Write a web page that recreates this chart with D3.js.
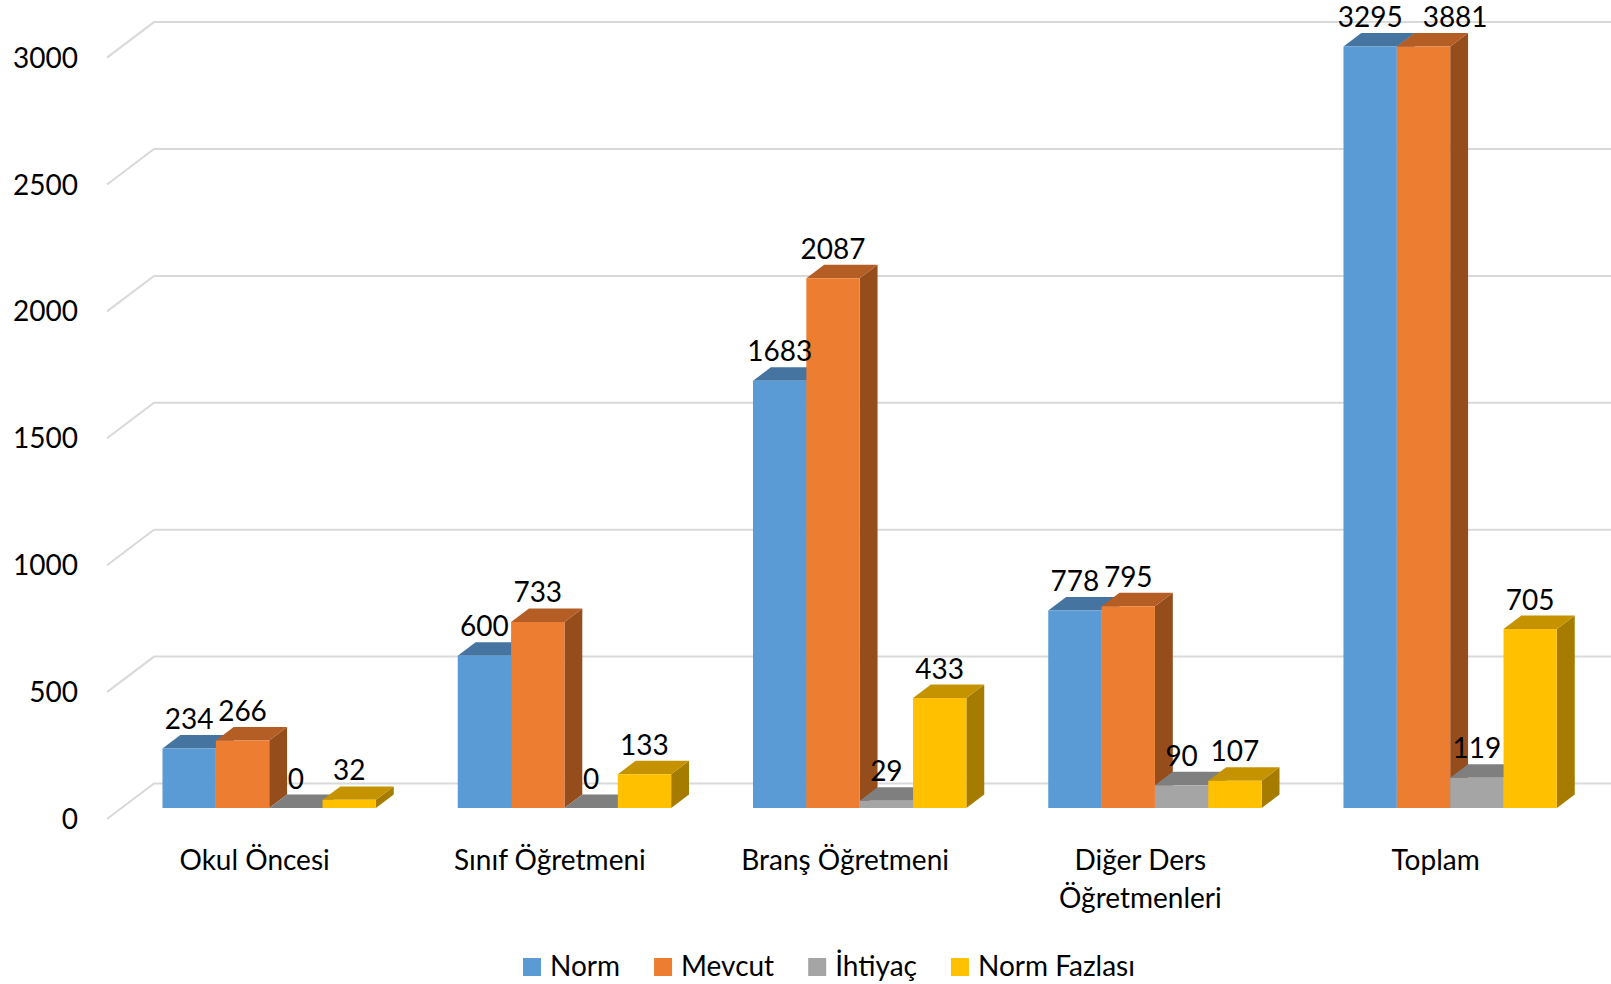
<!DOCTYPE html>
<html>
<head>
<meta charset="utf-8">
<script src="https://cdn.jsdelivr.net/npm/d3@7"></script>
<style>
  html, body { margin: 0; padding: 0; background: #fff; }
  svg { display: block; }
  text { font-family: Lato, "Open Sans", sans-serif; fill: #000; }
</style>
</head>
<body>
<svg id="chart" width="1611" height="984"></svg>
<script>
// ---- data ----
const categories = ["Okul Öncesi", "Sınıf Öğretmeni", "Branş Öğretmeni", "Diğer Ders Öğretmenleri", "Toplam"];
const seriesNames = ["Norm", "Mevcut", "İhtiyaç", "Norm Fazlası"];
const norm        = [234, 600, 1683, 778, 3295];
const mevcut      = [266, 733, 2087, 795, 3881];
const ihtiyac     = [0, 0, 29, 90, 119];
const normFazlasi = [32, 133, 433, 107, 705];
const yTicks      = [0, 500, 1000, 1500, 2000, 2500, 3000];
const seriesValues = [norm, mevcut, ihtiyac, normFazlasi];

// ---- styles ----
const faceColors = [
  { front: "#5B9BD5", top: "#44749F", side: "#3E6C96" },
  { front: "#ED7D31", top: "#B45D24", side: "#964D1C" },
  { front: "#A5A5A5", top: "#7F7F7F", side: "#7A7A7A" },
  { front: "#FFC000", top: "#C59300", side: "#A67C00" }
];
const FONT = 28;

// ---- layout ----
const svg = d3.select("#chart");
const frontLeft = 107, frontRight = 1583.25;
const DX = 47, DY = 35.5;       // full depth offset of the 3D box
const zFront = 0.31, zBack = 0.69;

const y = d3.scaleLinear().domain([0, 3000]).range([819, 57.6]);
const x = d3.scaleBand().domain(categories).range([frontLeft, frontRight])
  .paddingInner(0.2772).paddingOuter(0.1386);
const xs = d3.scaleBand().domain(seriesNames).range([0, x.bandwidth()]);

const P = (px, v, z) => [px + z * DX, y(v) - z * DY];
const poly = pts => "M" + pts.map(p => p[0].toFixed(2) + "," + p[1].toFixed(2)).join("L") + "Z";

// ---- gridlines (left wall diagonals + back wall) ----
const grid = svg.append("g").attr("stroke", "#D9D9D9").attr("stroke-width", 2).attr("fill", "none");
yTicks.forEach(t => {
  const a = P(frontLeft, t, 0), b = P(frontLeft, t, 1), c = P(frontRight, t, 1);
  grid.append("path").attr("d", `M${a[0]},${a[1]}L${b[0]},${b[1]}L${c[0] + 60},${c[1]}`);
});

// ---- y axis labels ----
svg.append("g").selectAll("text").data(yTicks).join("text")
  .attr("x", 78).attr("y", d => y(d) + 10)
  .attr("text-anchor", "end").attr("font-size", FONT)
  .text(d => d);

// ---- bars ----
const yMax = y.domain()[1];
const barsG = svg.append("g");
const labelsG = svg.append("g");
categories.forEach((cat, ci) => {
  let prev = null;
  seriesNames.forEach((s, si) => {
    const v = seriesValues[si][ci];
    const h = Math.min(v, yMax);
    const xl = x(cat) + xs(s), xr = xl + xs.bandwidth();
    const col = faceColors[si];
    const g = barsG.append("g");
    // side
    g.append("path").attr("fill", col.side)
      .attr("d", poly([P(xr, 0, zFront), P(xr, h, zFront), P(xr, h, zBack), P(xr, 0, zBack)]));
    // top
    g.append("path").attr("fill", col.top)
      .attr("d", poly([P(xl, h, zFront), P(xr, h, zFront), P(xr, h, zBack), P(xl, h, zBack)]));
    // front
    g.append("path").attr("fill", col.front)
      .attr("d", poly([P(xl, 0, zFront), P(xr, 0, zFront), P(xr, h, zFront), P(xl, h, zFront)]));
    // label (pushed right if it would collide with the previous one at same height)
    let cx = (xl + xr) / 2 + zFront * DX;
    const ty = y(h) - zBack * DY - 6;
    const t = labelsG.append("text").attr("y", ty)
      .attr("text-anchor", "middle").attr("font-size", FONT).text(v);
    const w = t.node().getComputedTextLength();
    if (prev && Math.abs(prev.y - ty) < 24 && cx - w / 2 < prev.right + 4) {
      cx = prev.right + 20 + w / 2;
    }
    t.attr("x", cx);
    prev = { right: cx + w / 2, y: ty };
  });
});

// ---- category labels (wrapped) ----
const step = x.step();
const catG = svg.append("g");
categories.forEach(cat => {
  const cx = x(cat) + x.bandwidth() / 2;
  const t = catG.append("text").attr("text-anchor", "middle").attr("font-size", FONT);
  const words = cat.split(" ");
  let lines = [], line = [];
  words.forEach(w => {
    const test = line.concat([w]).join(" ");
    t.text(test);
    if (t.node().getComputedTextLength() > step * 0.95 && line.length) {
      lines.push(line.join(" ")); line = [w];
    } else line.push(w);
  });
  lines.push(line.join(" "));
  t.text(null);
  lines.forEach((ln, i) => {
    t.append("tspan").attr("x", cx).attr("y", 870 + i * 38).text(ln);
  });
});

// ---- legend ----
const legend = svg.append("g");
let lx = 523;
seriesNames.forEach((s, si) => {
  legend.append("rect").attr("x", lx).attr("y", 958).attr("width", 18).attr("height", 18)
    .attr("fill", faceColors[si].front);
  const t = legend.append("text").attr("x", lx + 27).attr("y", 976).attr("font-size", FONT).text(s);
  lx += 27 + t.node().getComputedTextLength() + 34;
});
</script>
</body>
</html>
